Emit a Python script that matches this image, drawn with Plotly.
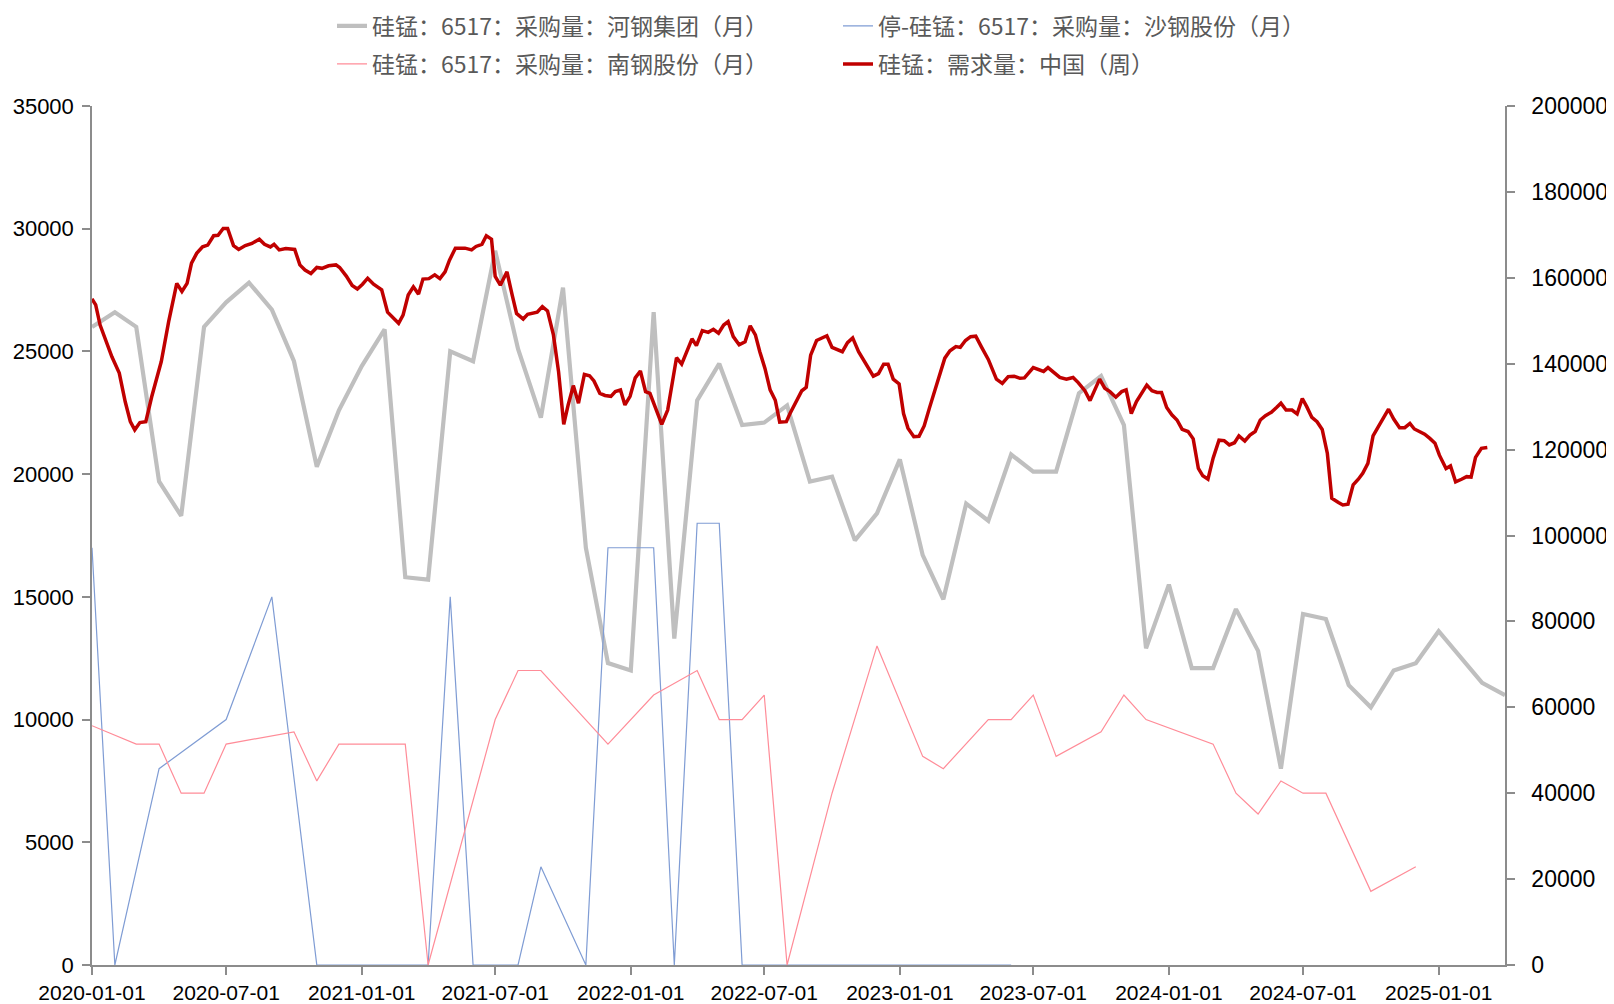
import plotly.graph_objects as go

# ---------------- data ----------------
month_dates = [f"{y}-{m:02d}-01" for y in range(2020, 2026) for m in range(1, 13)][:64]

hegang = [26000, 26600, 26000, 19700, 18300, 26000, 27000, 27800, 26700, 24600, 20300, 22600,
          24400, 25900, 15800, 15700, 25000, 24600, 29100, 25100, 22300, 27600, 17000, 12300,
          12000, 26600, 13300, 23000, 24500, 22000, 22100, 22800, 19700, 19900, 17300, 18400,
          20600, 16700, 14900, 18800, 18100, 20800, 20100, 20100, 23300, 24000, 22000, 12900,
          15500, 12100, 12100, 14500, 12800, 8000, 14300, 14100, 11400, 10500, 12000, 12300,
          13600, 12500, 11500, 11000]

shagang = [17000, 0, None, 8000, None, None, 10000, None, 15000, None, 0, 0,
           0, 0, 0, 0, 15000, 0, 0, 0, 4000, None, 0, 17000,
           17000, 17000, 0, 18000, 18000, 0, 0, 0, 0, 0, 0, 0,
           0, 0, 0, 0, 0, 0, None, None, None, None, None, None,
           None, None, None, None, None, None, None, None, None, None, None, None,
           None, None, None, None]

nangang = [9750, None, 9000, 9000, 7000, 7000, 9000, None, None, 9500, 7500, 9000,
           9000, 9000, 9000, 0, None, None, 10000, 12000, 12000, None, None, 9000,
           None, 11000, None, 12000, 10000, 10000, 11000, 0, None, 7000, None, 13000,
           None, 8500, 8000, None, 10000, 10000, 11000, 8500, None, 9500, 11000, 10000,
           None, None, 9000, 7000, 6150, 7500, 7000, 7000, None, 3000, None, 4000,
           None, None, None, None]

demand_dates = [
    "2020-01-01", "2020-01-06", "2020-01-12", "2020-01-19", "2020-01-28", "2020-02-07", "2020-02-15",
    "2020-02-22", "2020-02-28", "2020-03-06", "2020-03-14", "2020-03-22", "2020-04-04", "2020-04-14",
    "2020-04-25", "2020-05-02", "2020-05-09", "2020-05-15", "2020-05-22", "2020-05-30", "2020-06-06",
    "2020-06-14", "2020-06-20", "2020-06-27", "2020-07-03", "2020-07-11", "2020-07-18", "2020-07-27",
    "2020-08-05", "2020-08-15", "2020-08-22", "2020-08-30", "2020-09-04", "2020-09-11", "2020-09-20",
    "2020-10-02", "2020-10-09", "2020-10-16", "2020-10-24", "2020-11-01", "2020-11-08", "2020-11-17",
    "2020-11-27", "2020-12-02", "2020-12-11", "2020-12-19", "2020-12-26", "2021-01-02", "2021-01-09",
    "2021-01-17", "2021-01-28", "2021-02-05", "2021-02-13", "2021-02-20", "2021-02-26", "2021-03-05",
    "2021-03-12", "2021-03-19", "2021-03-25", "2021-04-02", "2021-04-10", "2021-04-17", "2021-04-24",
    "2021-04-30", "2021-05-08", "2021-05-21", "2021-05-30", "2021-06-05", "2021-06-13", "2021-06-19",
    "2021-06-26", "2021-07-01", "2021-07-08", "2021-07-17", "2021-07-24", "2021-07-30", "2021-08-08",
    "2021-08-14", "2021-08-27", "2021-09-03", "2021-09-10", "2021-09-18", "2021-09-25", "2021-10-02",
    "2021-10-08", "2021-10-15", "2021-10-22", "2021-10-30", "2021-11-06", "2021-11-12", "2021-11-20",
    "2021-11-27", "2021-12-05", "2021-12-11", "2021-12-18", "2021-12-24", "2021-12-31", "2022-01-07",
    "2022-01-14", "2022-01-21", "2022-01-27", "2022-02-04", "2022-02-12", "2022-02-20", "2022-02-26",
    "2022-03-04", "2022-03-11", "2022-03-18", "2022-03-25", "2022-03-31", "2022-04-08", "2022-04-16",
    "2022-04-23", "2022-04-30", "2022-05-07", "2022-05-13", "2022-05-20", "2022-05-28", "2022-06-05",
    "2022-06-12", "2022-06-19", "2022-06-25", "2022-07-02", "2022-07-09", "2022-07-16", "2022-07-22",
    "2022-07-31", "2022-08-05", "2022-08-12", "2022-08-21", "2022-08-27", "2022-09-02", "2022-09-10",
    "2022-09-17", "2022-09-24", "2022-10-01", "2022-10-08", "2022-10-15", "2022-10-22", "2022-10-29",
    "2022-11-06", "2022-11-16", "2022-11-26", "2022-12-03", "2022-12-10", "2022-12-16", "2022-12-23",
    "2022-12-31", "2023-01-06", "2023-01-12", "2023-01-20", "2023-01-27", "2023-02-03", "2023-02-10",
    "2023-02-20", "2023-03-03", "2023-03-10", "2023-03-18", "2023-03-24", "2023-03-31", "2023-04-07",
    "2023-04-14", "2023-04-22", "2023-05-01", "2023-05-12", "2023-05-20", "2023-05-28", "2023-06-05",
    "2023-06-13", "2023-06-19", "2023-07-01", "2023-07-08", "2023-07-15", "2023-07-21", "2023-07-28",
    "2023-08-06", "2023-08-15", "2023-08-24", "2023-08-31", "2023-09-09", "2023-09-16", "2023-09-23",
    "2023-09-29", "2023-10-06", "2023-10-13", "2023-10-21", "2023-10-29", "2023-11-04", "2023-11-11",
    "2023-11-18", "2023-11-26", "2023-12-02", "2023-12-09", "2023-12-16", "2023-12-22", "2023-12-29",
    "2024-01-05", "2024-01-12", "2024-01-19", "2024-01-27", "2024-02-03", "2024-02-10", "2024-02-16",
    "2024-02-23", "2024-03-01", "2024-03-09", "2024-03-16", "2024-03-23", "2024-03-30", "2024-04-05",
    "2024-04-13", "2024-04-20", "2024-04-27", "2024-05-04", "2024-05-11", "2024-05-19", "2024-05-26",
    "2024-06-01", "2024-06-08", "2024-06-16", "2024-06-23", "2024-06-30", "2024-07-06", "2024-07-13",
    "2024-07-20", "2024-07-27", "2024-08-03", "2024-08-09", "2024-08-18", "2024-08-24", "2024-08-31",
    "2024-09-07", "2024-09-14", "2024-09-20", "2024-09-27", "2024-10-04", "2024-10-11", "2024-10-18",
    "2024-10-25", "2024-11-01", "2024-11-09", "2024-11-16", "2024-11-23", "2024-11-29", "2024-12-06",
    "2024-12-13", "2024-12-20", "2024-12-27", "2025-01-02", "2025-01-11", "2025-01-17", "2025-01-24",
    "2025-02-01", "2025-02-08", "2025-02-14", "2025-02-20", "2025-02-28", "2025-03-08",
]

demand = [
    155100, 153700, 149000, 145500, 141600, 137800, 131200, 126500, 124600, 126300, 126500, 132300,
    140500, 149800, 158700, 156800, 158700, 163400, 165700, 167200, 167600, 169800, 169900, 171500,
    171500, 167500, 166600, 167500, 168000, 169000, 167800, 167200, 167800, 166500, 166800, 166600,
    163000, 161800, 161000, 162400, 162200, 162800, 163000, 162400, 160400, 158200, 157400, 158500,
    159900, 158500, 157200, 152000, 150600, 149400, 151300, 156000, 157900, 156200, 159700, 159800,
    160700, 159800, 161400, 164100, 166900, 166900, 166500, 167300, 167800, 169800, 169000, 160300,
    158300, 161400, 156000, 151700, 150400, 151500, 152000, 153300, 152300, 146700, 138100, 125900,
    130400, 134900, 130800, 137500, 137200, 136000, 133100, 132600, 132400, 133500, 133900, 130400,
    132400, 136700, 138300, 133500, 133100, 129200, 125900, 129200, 135000, 141400, 139900, 142700,
    145800, 144200, 147700, 147300, 148000, 147100, 149000, 149800, 146300, 144400, 145100, 148800,
    146700, 142800, 138900, 133900, 131500, 126400, 126500, 128400, 130800, 133700, 134500, 142000,
    145400, 145900, 146500, 143800, 143400, 142800, 144900, 146000, 142800, 139900, 137100, 137700,
    139900, 139900, 136400, 135300, 128400, 125000, 123000, 123100, 125500, 129600, 135300, 141300,
    143000, 144000, 143800, 145400, 146300, 146400, 143800, 141000, 136400, 135400, 137000, 137100,
    136600, 136700, 139100, 138700, 138200, 139100, 138200, 136800, 136400, 136800, 135600, 133700,
    131400, 133900, 136400, 134300, 133500, 132200, 133500, 133900, 128400, 131200, 133300, 135000,
    133700, 133300, 133300, 129800, 128100, 126900, 124700, 124200, 122500, 115600, 113900, 113100,
    118000, 122200, 122100, 121100, 121600, 123200, 122000, 123400, 124200, 126900, 127900, 128700,
    129800, 130800, 129200, 129200, 128300, 131900, 130000, 127500, 126500, 124700, 119100, 108700,
    107700, 107100, 107300, 111800, 113100, 114500, 116800, 123200, 125300, 127300, 129400, 127100,
    125100, 125100, 126100, 124800, 124300, 123600, 122600, 121500, 118700, 115600, 116200, 112500,
    113100, 113700, 113600, 118200, 120300, 120500,
]

x_tick_dates = ["2020-01-01", "2020-07-01", "2021-01-01", "2021-07-01", "2022-01-01", "2022-07-01",
                "2023-01-01", "2023-07-01", "2024-01-01", "2024-07-01", "2025-01-01"]

names = ["硅锰：6517：采购量：河钢集团（月）", "停-硅锰：6517：采购量：沙钢股份（月）",
         "硅锰：6517：采购量：南钢股份（月）", "硅锰：需求量：中国（周）"]

# ---------------- figure ----------------
fig = go.Figure()
fig.add_trace(go.Scatter(x=month_dates, y=hegang, name=names[0], mode="lines",
                         line=dict(color="#BFBFBF", width=4.2), legend="legend"))
fig.add_trace(go.Scatter(x=month_dates, y=shagang, name=names[1], mode="lines", connectgaps=True,
                         line=dict(color="#7F9CD4", width=1.2), legend="legend2"))
fig.add_trace(go.Scatter(x=month_dates, y=nangang, name=names[2], mode="lines", connectgaps=True,
                         line=dict(color="#FF8C98", width=1.2), legend="legend3"))
fig.add_trace(go.Scatter(x=demand_dates, y=demand, name=names[3], mode="lines", yaxis="y2",
                         line=dict(color="#C00000", width=3.5), legend="legend4"))

axis_col = "#8C8C8C"
leg_font = dict(family="Noto Sans CJK SC", size=23, color="#595959")
W, H = 1614, 1004
L, R, T, B = 84, 117, 98, 47
PW, PH = W - L - R, H - T - B


def leg(xpx, ypx):
    # legend placement in figure pixels, converted to paper fractions
    return dict(x=(xpx - L) / PW, y=1 + (T - ypx) / PH, xref="paper", yref="paper",
                xanchor="left", yanchor="middle", font=leg_font,
                bgcolor="rgba(0,0,0,0)", borderwidth=0)


fig.update_layout(
    width=W, height=H, autosize=False, showlegend=True,
    margin=dict(l=L, r=R, t=T, b=B, pad=0, autoexpand=False),
    paper_bgcolor="white", plot_bgcolor="white",
    font=dict(family="Noto Sans CJK SC", color="#000000"),
    legend=leg(324, 18), legend2=leg(830, 18), legend3=leg(324, 56), legend4=leg(830, 56),
    xaxis=dict(type="date", range=["2020-01-01", "2025-04-01"], tickvals=x_tick_dates,
               tickformat="%Y-%m-%d", ticks="outside", ticklen=8, tickwidth=1.5, tickcolor=axis_col,
               showline=True, linecolor=axis_col, linewidth=1.5, showgrid=False, zeroline=False,
               automargin=False,
               tickfont=dict(family="Liberation Sans", size=21, color="#000000")),
    yaxis=dict(range=[0, 35000], tick0=0, dtick=5000, tickformat="d", ticks="outside",
               ticklen=8, tickwidth=1.5, tickcolor=axis_col, showline=True, linecolor=axis_col,
               linewidth=1.5, showgrid=False, zeroline=False, automargin=False,
               ticklabelstandoff=4,
               tickfont=dict(family="Liberation Sans", size=22, color="#000000")),
    yaxis2=dict(range=[0, 200000], tick0=0, dtick=20000, tickformat="d", overlaying="y",
                side="right", ticks="outside", ticklen=8, tickwidth=1.5, tickcolor=axis_col,
                showline=True, linecolor=axis_col, linewidth=1.5, showgrid=False, zeroline=False,
                automargin=False, ticklabelstandoff=12,
                tickfont=dict(family="Liberation Sans", size=23, color="#000000")),
)

fig.write_html("out.html")
